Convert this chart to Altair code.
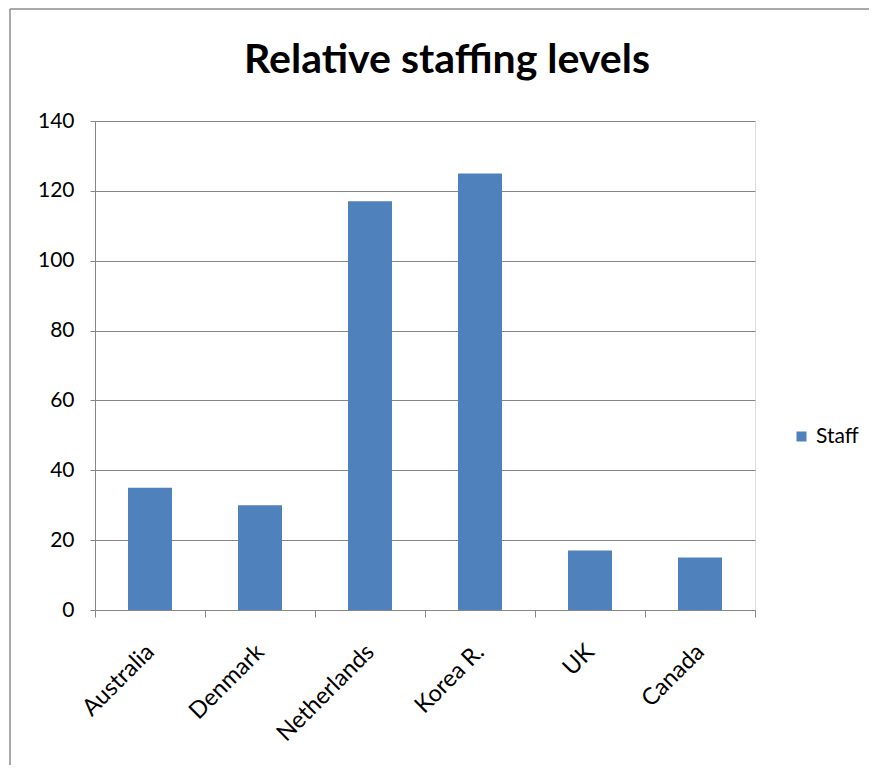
import altair as alt
import pandas as pd

countries = ["Australia", "Denmark", "Netherlands", "Korea R.", "UK", "Canada"]
staff = [35, 30, 117, 125, 17, 15]
series_name = ["Staff"] * len(countries)
y_ticks = [0, 20, 40, 60, 80, 100, 120, 140]

df = pd.DataFrame({"country": countries, "value": staff, "series": series_name})

FONT = "Lato"
GRID = "#868686"
W, H = 660, 489
PAD = {"left": 87, "top": 113, "right": 114, "bottom": 155}

bars = alt.Chart(df).mark_bar(width=alt.RelativeBandSize(0.4)).encode(
    x=alt.X(
        "country:N",
        sort=countries,
        scale=alt.Scale(paddingInner=0, paddingOuter=0),
        axis=alt.Axis(
            title=None, labelAngle=-45, labelAlign="right", labelBaseline="middle",
            tickBand="extent", tickSize=7, tickColor=GRID, domainColor=GRID,
            labelFontSize=23.5, labelFont=FONT, labelColor="#000000",
            labelPadding=31, grid=False,
        ),
    ),
    y=alt.Y(
        "value:Q",
        scale=alt.Scale(domain=[0, 140]),
        axis=alt.Axis(
            title=None, values=y_ticks, grid=True, gridColor=GRID, tickColor=GRID,
            domainColor=GRID, tickSize=5, labelPadding=16, labelFontSize=21,
            labelFont=FONT, labelColor="#000000",
        ),
    ),
    color=alt.Color(
        "series:N",
        scale=alt.Scale(range=["#4F81BD"]),
        legend=alt.Legend(
            title=None, orient="none", legendX=696, legendY=305,
            symbolType="square", symbolSize=100, symbolStrokeWidth=0,
            labelFontSize=21, labelFont=FONT, labelColor="#000000", labelOffset=4,
        ),
    ),
)

frame_src = alt.Chart(pd.DataFrame({"a": [0]}))
frame_left = frame_src.mark_rule(stroke="#8c8c8c", strokeWidth=1.5).encode(
    x=alt.value(-85), y=alt.value(-112), y2=alt.value(H + PAD["bottom"])
)
frame_top = frame_src.mark_rule(stroke="#8c8c8c", strokeWidth=1.5).encode(
    x=alt.value(-85), x2=alt.value(W + PAD["right"]), y=alt.value(-112)
)

chart = alt.layer(frame_left, frame_top, bars).properties(
    width=W,
    height=H,
    title=alt.TitleParams(
        "Relative staffing levels", font=FONT, fontSize=41, fontWeight="bold",
        color="#000000", anchor="middle", dx=22, baseline="alphabetic", offset=-106,
    ),
    autosize=alt.AutoSizeParams(type="none"),
    padding=PAD,
).configure_view(stroke=None).configure(background="white")

chart.save("out.html", embed_options={"renderer": "svg", "actions": False})
